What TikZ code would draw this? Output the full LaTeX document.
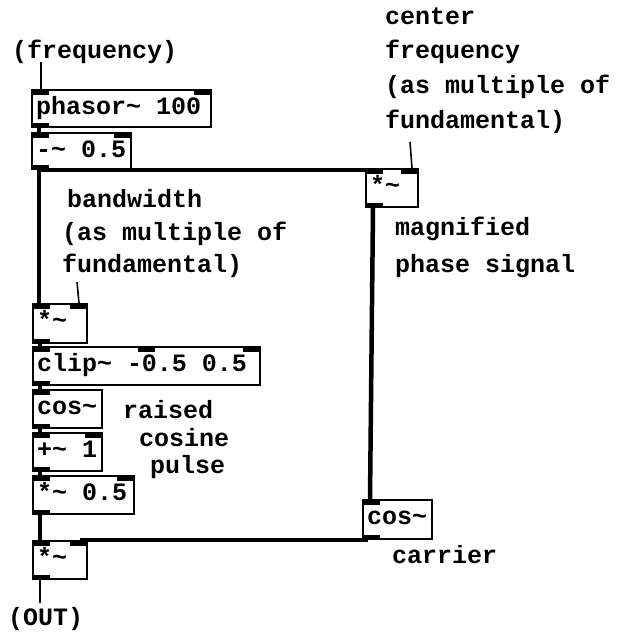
\documentclass[tikz,border=0pt]{standalone}
\usepackage{fontspec}
\newfontfamily\pdmono{Liberation Mono}
\newcommand\pdtype{\pdmono\bfseries\fontsize{25}{30}\selectfont}
\newcommand\pdl[2]{\makebox[#1][l]{#2}}
\usetikzlibrary{calc}
\tikzset{
  pdbox/.style={draw, line width=2pt, anchor=north west, inner xsep=4pt, inner ysep=0pt,
    text height=24pt, text depth=14pt, font=\pdtype},
  io1/.style={path picture={
    \fill (path picture bounding box.north west) rectangle ++(17pt,-4.5pt);
    \fill (path picture bounding box.south west) rectangle ++(17pt,4.5pt);}},
  io2/.style={path picture={
    \fill (path picture bounding box.north west) rectangle ++(17pt,-4.5pt);
    \fill (path picture bounding box.north east) rectangle ++(-17pt,-4.5pt);
    \fill (path picture bounding box.south west) rectangle ++(17pt,4.5pt);}},
  io3/.style={path picture={
    \fill (path picture bounding box.north west) rectangle ++(17pt,-4.5pt);
    \fill ($(path picture bounding box.north west)!0.5!(path picture bounding box.north east)+(-8.5pt,0)$) rectangle ++(17pt,-4.5pt);
    \fill (path picture bounding box.north east) rectangle ++(-17pt,-4.5pt);
    \fill (path picture bounding box.south west) rectangle ++(17pt,4.5pt);}},
  comment/.style={anchor=base west, inner sep=0pt, font=\pdtype},
  sig/.style={line width=4.5pt},
  ctl/.style={line width=1.6pt},
}
\begin{document}
\begin{tikzpicture}[x=1pt,y=-1pt]
\fill[white] (0,0) rectangle (618,632);
\useasboundingbox (0,0) rectangle (618,632);

% boxes
\node[pdbox, io2, text depth=13pt] (phasor) at (31,89) {\pdl{171pt}{phasor\textasciitilde{} 100}};
\node[pdbox, io2, text depth=12pt] (minus) at (31,132) {\pdl{91pt}{-\textasciitilde{} 0.5}};
\node[pdbox, io2] (mulR) at (365,168) {\pdl{44pt}{*\textasciitilde}};
\node[pdbox, io2, text depth=15pt] (mulBW) at (32,303) {\pdl{46pt}{*\textasciitilde}};
\node[pdbox, io3] (clip) at (32,346) {\pdl{219pt}{clip\textasciitilde{} -0.5 0.5}};
\node[pdbox, io1] (cosA) at (32,389) {\pdl{61pt}{cos\textasciitilde}};
\node[pdbox, io2] (plus) at (32,432) {\pdl{61pt}{+\textasciitilde{} 1}};
\node[pdbox, io2] (mulHalf) at (32,475) {\pdl{93pt}{*\textasciitilde{} 0.5}};
\node[pdbox, io1, text depth=15pt] (cosR) at (362,499) {\pdl{61pt}{cos\textasciitilde}};
\node[pdbox, io2] (mulOut) at (32,540) {\pdl{46pt}{*\textasciitilde}};

% comments
\node[comment] (freq) at (12,58) {(frequency)};
\node[comment] (cf1) at (385,24) {center};
\node[comment] (cf2) at (385,58) {frequency};
\node[comment] (cf3) at (385,93) {(as multiple of};
\node[comment] (cf4) at (385,128) {fundamental)};
\node[comment] (bw1) at (67,207) {bandwidth};
\node[comment] (bw2) at (62,240) {(as multiple of};
\node[comment] (bw3) at (62,272) {fundamental)};
\node[comment] (mg1) at (395,235) {magnified};
\node[comment] (mg2) at (395,272) {phase signal};
\node[comment] (rc1) at (123,418) {raised};
\node[comment] (rc2) at (139,446) {cosine};
\node[comment] (rc3) at (150,473) {pulse};
\node[comment] (car) at (392,563) {carrier};
\node[comment] (out) at (8,625) {(OUT)};

% free ends
\coordinate (freqend) at (41,62);
\coordinate (cfend) at (410,142);
\coordinate (bwend) at (77,282);
\coordinate (outend) at (40,603);

% control connections
\draw[ctl] (freqend) -- ($(phasor.north west)+(10,0)$);
\draw[ctl] (cfend) -- ($(mulR.north east)+(-7,0)$);
\draw[ctl] (bwend) -- ($(mulBW.north east)+(-9,0)$);
\draw[ctl] ($(mulOut.south west)+(8,0)$) -- (outend);

% signal connections
\draw[sig] ($(phasor.south west)+(8,0)$) -- ($(minus.north west)+(8,0)$);
\draw[sig] ($(minus.south west)+(8,0)$) -- ($(mulBW.north west)+(7,0)$);
\draw[sig] ($(minus.south west)+(8,0)$) -- ($(mulR.north west)+(2,2)$);
\draw[sig] ($(mulR.south west)+(8,0)$) -- ($(cosR.north west)+(8,0)$);
\draw[sig] ($(mulBW.south west)+(8,0)$) -- ($(clip.north west)+(8,0)$);
\draw[sig] ($(clip.south west)+(8,0)$) -- ($(cosA.north west)+(8,0)$);
\draw[sig] ($(cosA.south west)+(8,0)$) -- ($(plus.north west)+(8,0)$);
\draw[sig] ($(plus.south west)+(8,0)$) -- ($(mulHalf.north west)+(8,0)$);
\draw[sig] ($(mulHalf.south west)+(8,0)$) -- ($(mulOut.north west)+(8,0)$);
\draw[sig] ($(cosR.south west)+(6,0)$) -- ($(mulOut.north east)+(-8,0)$);
\end{tikzpicture}
\end{document}
